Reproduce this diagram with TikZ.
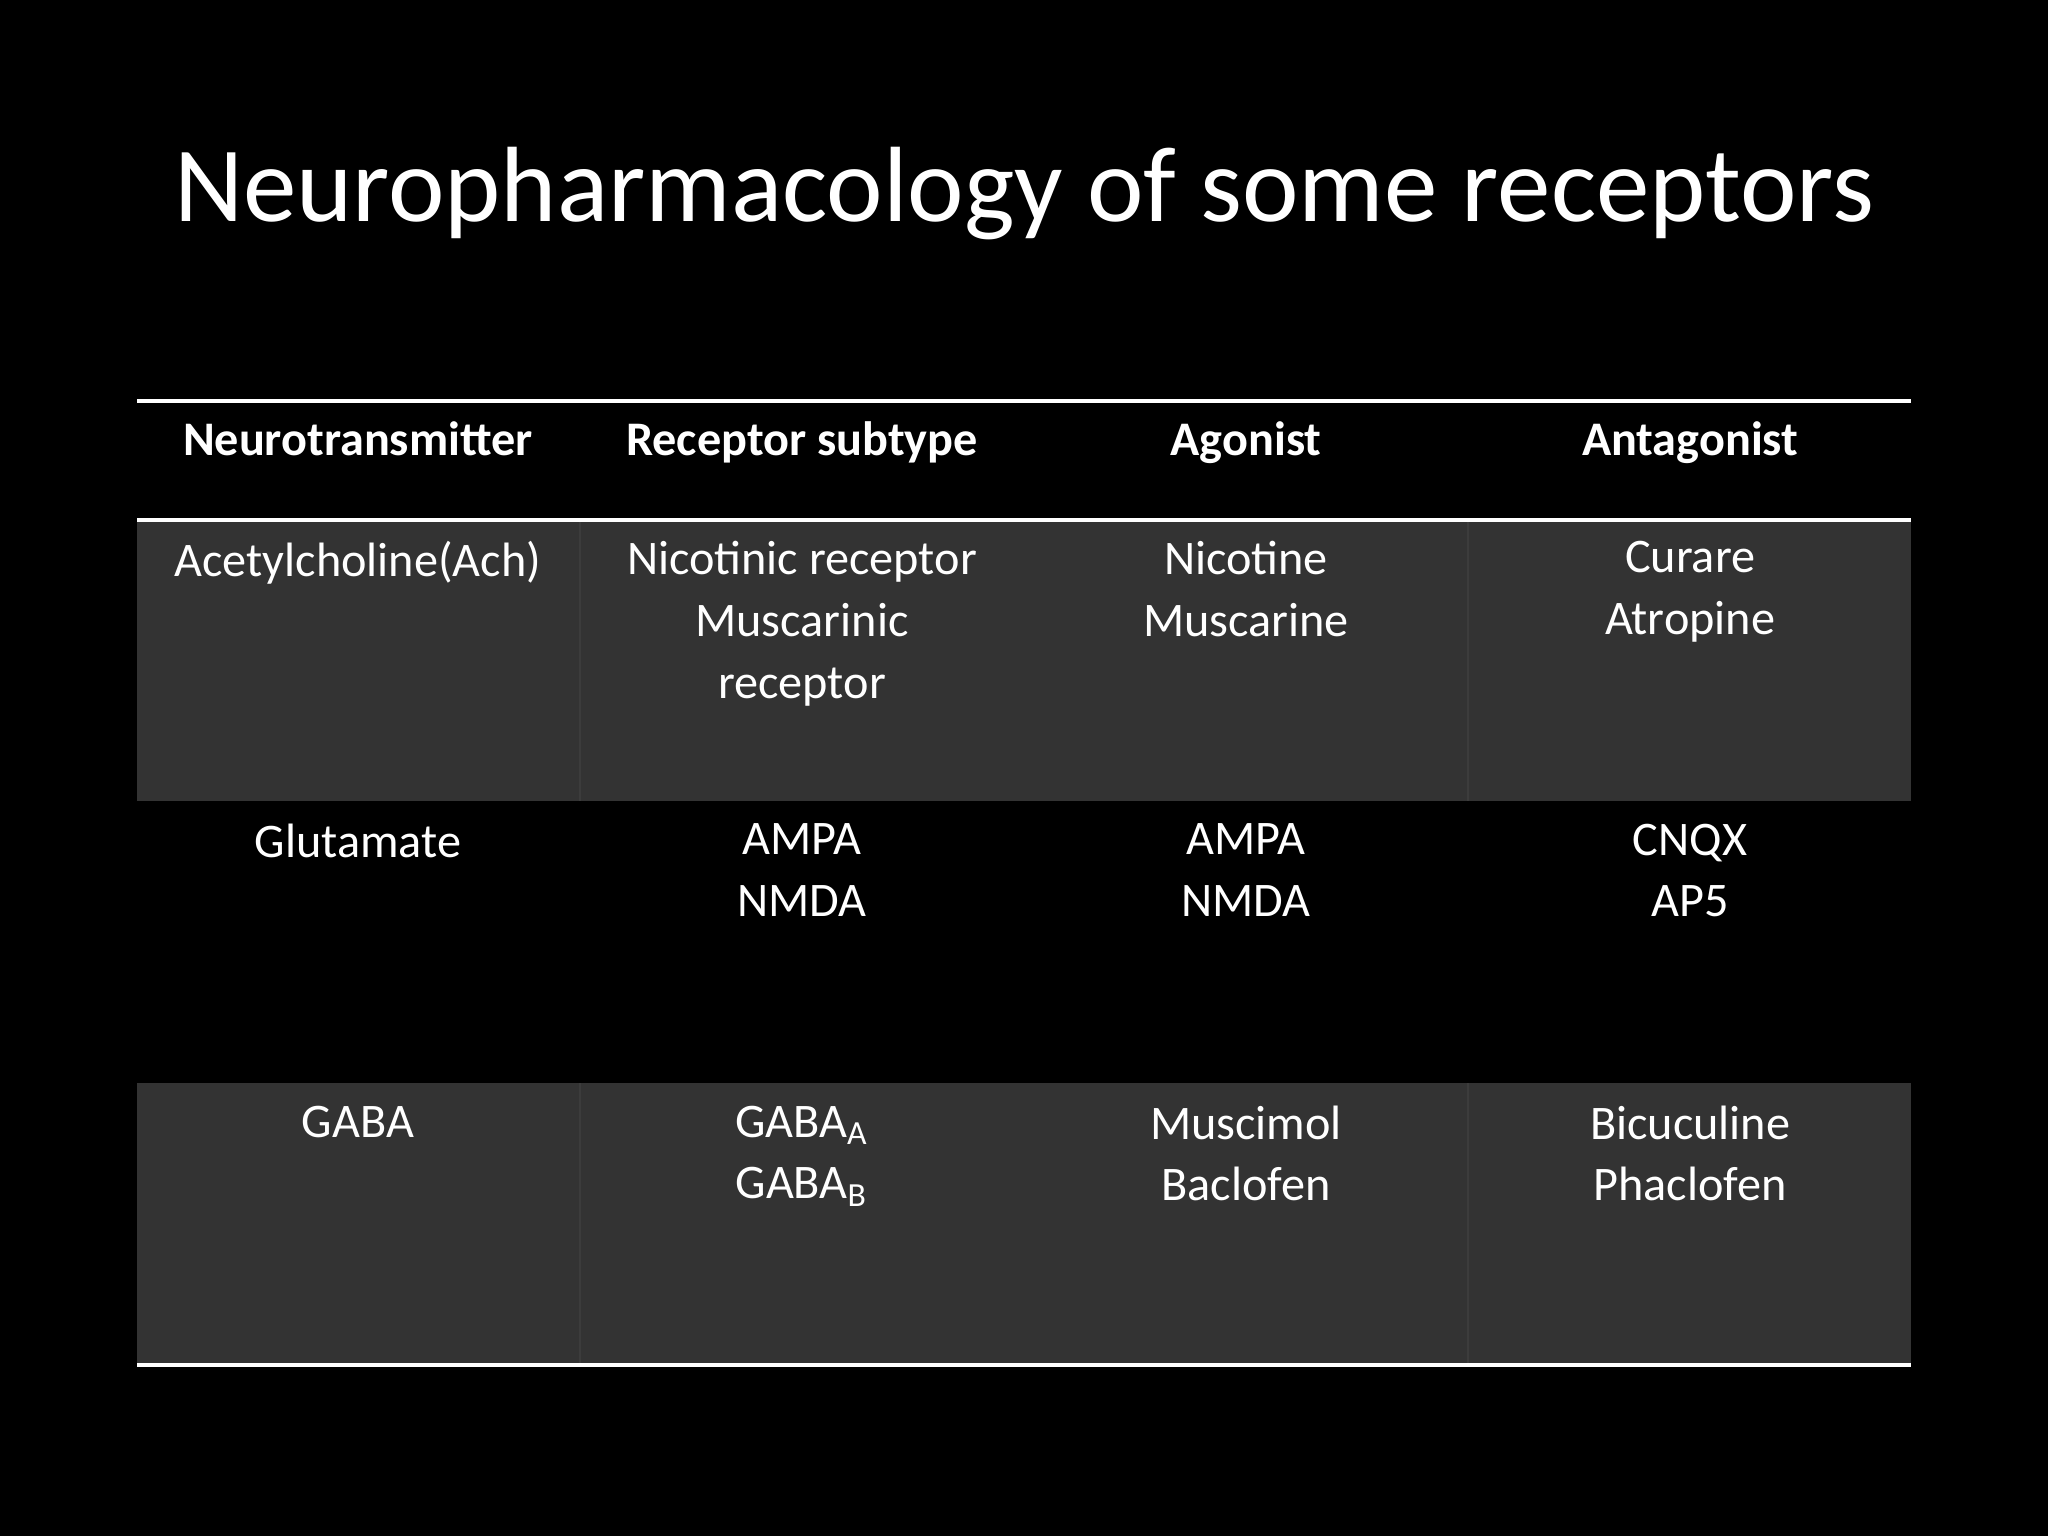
\documentclass[tikz,border=0pt]{standalone}
\usepackage{fontspec}
\setmainfont{Carlito}
\definecolor{cellgray}{HTML}{333333}
\definecolor{divgray}{HTML}{3C3C3C}
\begin{document}
\begin{tikzpicture}[x=0.01cm,y=-0.01cm,
  cell/.style={text=white,font=\fontsize{10.5pt}{13.4pt}\selectfont,align=center,anchor=north,inner sep=0pt},
  head/.style={cell,font=\fontsize{10.5pt}{13.4pt}\selectfont\bfseries},
  rule/.style={white,line width=0.03cm}]
\fill[black] (0,0) rectangle (1568,1176);
\useasboundingbox (0,0) rectangle (1568,1176);
\node[text=white,font=\fontsize{23.3pt}{28pt}\selectfont,inner sep=0pt] (title) at (784,148) {Neuropharmacology of some receptors};
\fill[cellgray] (105,398) rectangle (1463,613);
\fill[cellgray] (105,829) rectangle (1463,1045);
\foreach \x in {444,1124}{
  \draw[divgray,line width=0.01cm] (\x,398) -- (\x,613);
  \draw[divgray,line width=0.01cm] (\x,829) -- (\x,1045);}
\draw[rule] (105,307) -- (1463,307);
\draw[rule] (105,398) -- (1463,398);
\draw[rule] (105,1045) -- (1463,1045);
\node[head] (h1) at (274,322) {Neurotransmitter};
\node[head] (h2) at (614,322) {Receptor subtype};
\node[head] (h3) at (954,322) {Agonist};
\node[head] (h4) at (1294,322) {Antagonist};
\node[cell] (a1) at (274,414) {Acetylcholine(Ach)};
\node[cell] (a2) at (614,414) {Nicotinic receptor\\Muscarinic\\receptor};
\node[cell] (a3) at (954,414) {Nicotine\\Muscarine};
\node[cell] (a4) at (1294,414) {Curare\\Atropine};
\node[cell] (b1) at (274,630) {Glutamate};
\node[cell] (b2) at (614,630) {AMPA\\NMDA};
\node[cell] (b3) at (954,630) {AMPA\\NMDA};
\node[cell] (b4) at (1294,630) {CNQX\\AP5};
\node[cell] (c1) at (274,846) {GABA};
\node[cell] (c2) at (614,846) {GABA\textsubscript{A}\\GABA\textsubscript{B}};
\node[cell] (c3) at (954,846) {Muscimol\\Baclofen};
\node[cell] (c4) at (1294,846) {Bicuculine\\Phaclofen};
\end{tikzpicture}
\end{document}
